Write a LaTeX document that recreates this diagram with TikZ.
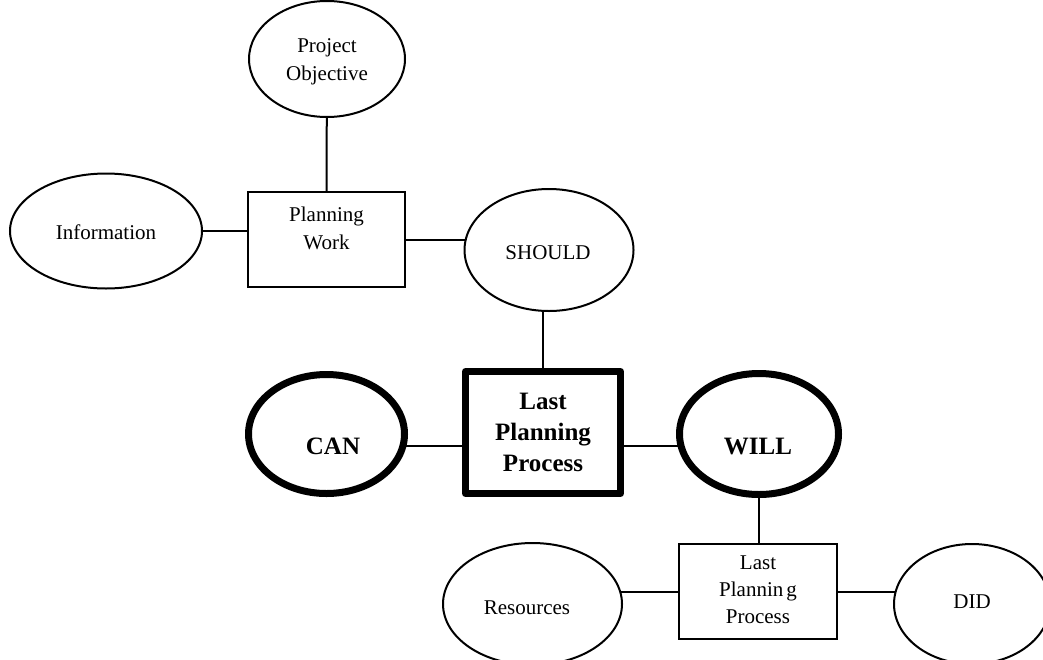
\documentclass[tikz,border=0pt]{standalone}
\usepackage{fontspec}
\setmainfont{Liberation Serif}
\usetikzlibrary{shapes.geometric,backgrounds}
\begin{document}
\begin{tikzpicture}[x=1pt,y=-1pt,
  thinell/.style={ellipse, draw, line width=2pt, fill=white, inner sep=0pt},
  thickell/.style={ellipse, draw, line width=7pt, fill=white, inner sep=0pt},
  thinbox/.style={rectangle, draw, line width=2.4pt, fill=white, inner sep=0pt},
  thickbox/.style={rectangle, draw, line width=7pt, line join=round, fill=white, inner sep=0pt},
  lbl/.style={inner sep=0pt, align=center, font=\fontsize{21}{28}\selectfont},
  boldlbl/.style={inner sep=0pt, align=center, font=\fontsize{25}{31}\selectfont\bfseries},
  conn/.style={line width=2pt}]
\useasboundingbox (0,0) rectangle (1043,659);
\clip (0,0) rectangle (1043,659);

% shapes
\node[thinell, minimum width=156pt, minimum height=116pt] (po) at (327,59) {};
\node[thinell, minimum width=192pt, minimum height=115pt] (info) at (106,231) {};
\node[thinbox, minimum width=157pt, minimum height=95pt] (pw) at (326.5,239.5) {};
\node[thinell, minimum width=169pt, minimum height=122pt] (should) at (549,250) {};
\node[thickbox, minimum width=155pt, minimum height=122pt] (lpp) at (543,432.5) {};
\node[thickell, minimum width=156pt, minimum height=119pt] (can) at (326.5,434) {};
\node[thickell, minimum width=159pt, minimum height=121pt] (will) at (759,434) {};
\node[thinbox, minimum width=158pt, minimum height=95pt] (slpp) at (758,591.5) {};
\node[thinell, minimum width=179pt, minimum height=122pt] (res) at (532.5,604) {};
\node[thinell, minimum width=156pt, minimum height=120pt] (did) at (972,604) {};

% texts
\node[lbl] (pot) at (327,62) {Project\\Objective};
\node[lbl] (infot) at (106,232) {Information};
\node[lbl] (pwt) at (326.5,228) {Planning\\Work};
\node[lbl] (shouldt) at (548,253) {SHOULD};
\node[boldlbl] (lppt) at (543,432) {Last\\Planning\\Process};
\node[boldlbl] (cant) at (333,446) {CAN};
\node[boldlbl] (willt) at (758,446) {WILL};
\node[lbl, font=\fontsize{21}{27}\selectfont] (slppt) at (758,590) {Last\\Plannin\kern3pt g\\Process};
\node[lbl] (rest) at (527,608) {Resources};
\node[lbl] (didt) at (972,602) {DID};

% connectors
\begin{scope}[on background layer]
\draw[conn] (po.center) -- (pw.north);
\draw[conn] (info.center) -- (info.center -| pw.west);
\draw[conn] (pw.east) -- (pw.east -| should.center);
\draw[conn] (lpp.north |- should.center) -- (lpp.north);
\draw[conn] (cant.center -| can.center) -- (cant.center -| lpp.west);
\draw[conn] (willt.center -| lpp.east) -- (willt.center -| will.center);
\draw[conn] (will.center) -- (will.center |- slpp.north);
\draw[conn] (slpp.west -| res.center) -- (slpp.west);
\draw[conn] (slpp.east) -- (slpp.east -| did.center);
\end{scope}
\end{tikzpicture}
\end{document}
